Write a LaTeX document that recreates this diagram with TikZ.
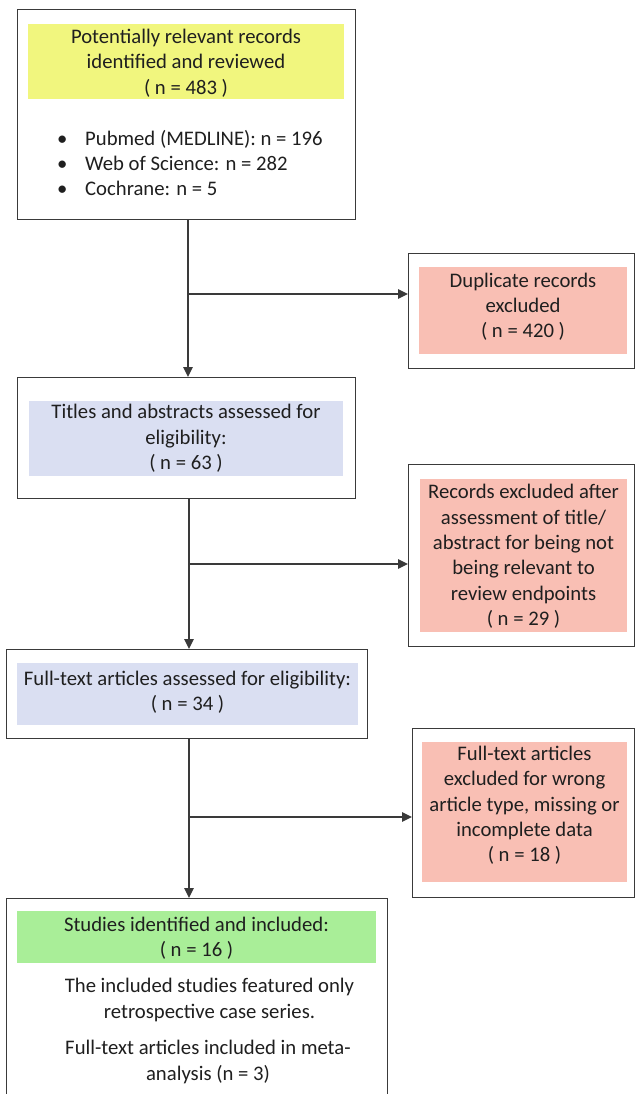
\documentclass[tikz,border=0pt]{standalone}
\usepackage{fontspec}
\setmainfont{Carlito}
\usetikzlibrary{arrows.meta}
\definecolor{boxline}{HTML}{3A3A3A}
\definecolor{fillyellow}{HTML}{F1F67E}
\definecolor{fillpink}{HTML}{F9BFB4}
\definecolor{fillblue}{HTML}{DADFF2}
\definecolor{fillgreen}{HTML}{A9EE98}
\tikzset{
  outerbox/.style={draw=boxline, line width=1.4pt, fill=white, rectangle, inner sep=0pt},
  fillbox/.style={rectangle, inner sep=0pt, draw=none},
  txt/.style={inner sep=0pt, align=center, text=black!88, font=\fontsize{20.7}{25.3}\selectfont},
  flow/.style={draw=boxline, line width=1.4pt, -{Triangle[length=10pt,width=9.5pt]}},
}
\begin{document}
\begin{tikzpicture}[x=1pt,y=-1pt]
\useasboundingbox (0,0) rectangle (635,1094);
\begin{scope}
\clip (0,0) rectangle (635,1094);
% outer boxes
\node[outerbox, anchor=north west, minimum width=338pt, minimum height=210pt] (b1) at (17,9) {};
\node[outerbox, anchor=north west, minimum width=226pt, minimum height=115pt] (dup) at (408,253) {};
\node[outerbox, anchor=north west, minimum width=338pt, minimum height=121pt] (b2) at (17,377) {};
\node[outerbox, anchor=north west, minimum width=226pt, minimum height=182pt] (rec) at (408,464) {};
\node[outerbox, anchor=north west, minimum width=361pt, minimum height=89pt] (b3) at (6,649) {};
\node[outerbox, anchor=north west, minimum width=222pt, minimum height=169pt] (ftx) at (412,728) {};
\node[outerbox, anchor=north west, minimum width=381pt, minimum height=220pt] (b4) at (6,898) {};
% fills
\node[fillbox, fill=fillyellow, anchor=north west, minimum width=316pt, minimum height=75pt] (f1) at (28,24) {};
\node[fillbox, fill=fillpink, anchor=north west, minimum width=208pt, minimum height=87pt] (fdup) at (419,267) {};
\node[fillbox, fill=fillblue, anchor=north west, minimum width=314pt, minimum height=75pt] (f2) at (29,401) {};
\node[fillbox, fill=fillpink, anchor=north west, minimum width=207pt, minimum height=153pt] (frec) at (420,479) {};
\node[fillbox, fill=fillblue, anchor=north west, minimum width=341pt, minimum height=62pt] (f3) at (17,663) {};
\node[fillbox, fill=fillpink, anchor=north west, minimum width=205pt, minimum height=140pt] (fftx) at (422,742) {};
\node[fillbox, fill=fillgreen, anchor=north west, minimum width=359pt, minimum height=52pt] (f4) at (17,911) {};
% texts
\node[txt] (t1) at (186,63.7) {\strut Potentially relevant records\\identified and reviewed\\( n = 483 )\strut};
\node[txt, align=left, anchor=west] (t1b) at (57,165.5) {\strut\makebox[28pt][l]{•}Pubmed (MEDLINE): n = 196\\\makebox[28pt][l]{•}Web of Science: n = 282\\\makebox[28pt][l]{•}Cochrane: n = 5\strut};
\node[txt] (tdup) at (523,307.3) {\strut Duplicate records\\excluded\\( n = 420 )\strut};
\node[txt] (t2) at (186,439) {\strut Titles and abstracts assessed for\\eligibility:\\( n = 63 )\strut};
\node[txt] (trec) at (523.5,557) {\strut Records excluded after\\assessment of title/\\abstract for being not\\being relevant to\\review endpoints\\( n = 29 )\strut};
\node[txt] (t3) at (187.5,693) {\strut Full-text articles assessed for eligibility:\\( n = 34 )\strut};
\node[txt] (tftx) at (524.5,806) {\strut Full-text articles\\excluded for wrong\\article type, missing or\\incomplete data\\( n = 18 )\strut};
\node[txt] (t4) at (196.5,939) {\strut Studies identified and included:\\( n = 16 )\strut};
\node[txt] (t4b) at (209.5,1000.5) {\strut The included studies featured only\\retrospective case series.\strut};
\node[txt] (t4c) at (208,1062.5) {\strut Full-text articles included in meta-\\analysis (n = 3)\strut};
% connectors
\coordinate (j1) at (188,294);
\coordinate (j2) at (189,564);
\coordinate (j3) at (189,817);
\draw[flow] (b1.south -| j1) -- (b2.north -| j1);
\draw[flow] (j1) -- (j1 -| dup.west);
\draw[flow] (b2.south -| j2) -- (b3.north -| j2);
\draw[flow] (j2) -- (j2 -| rec.west);
\draw[flow] (b3.south -| j3) -- (b4.north -| j3);
\draw[flow] (j3) -- (j3 -| ftx.west);
\end{scope}
\end{tikzpicture}
\end{document}
